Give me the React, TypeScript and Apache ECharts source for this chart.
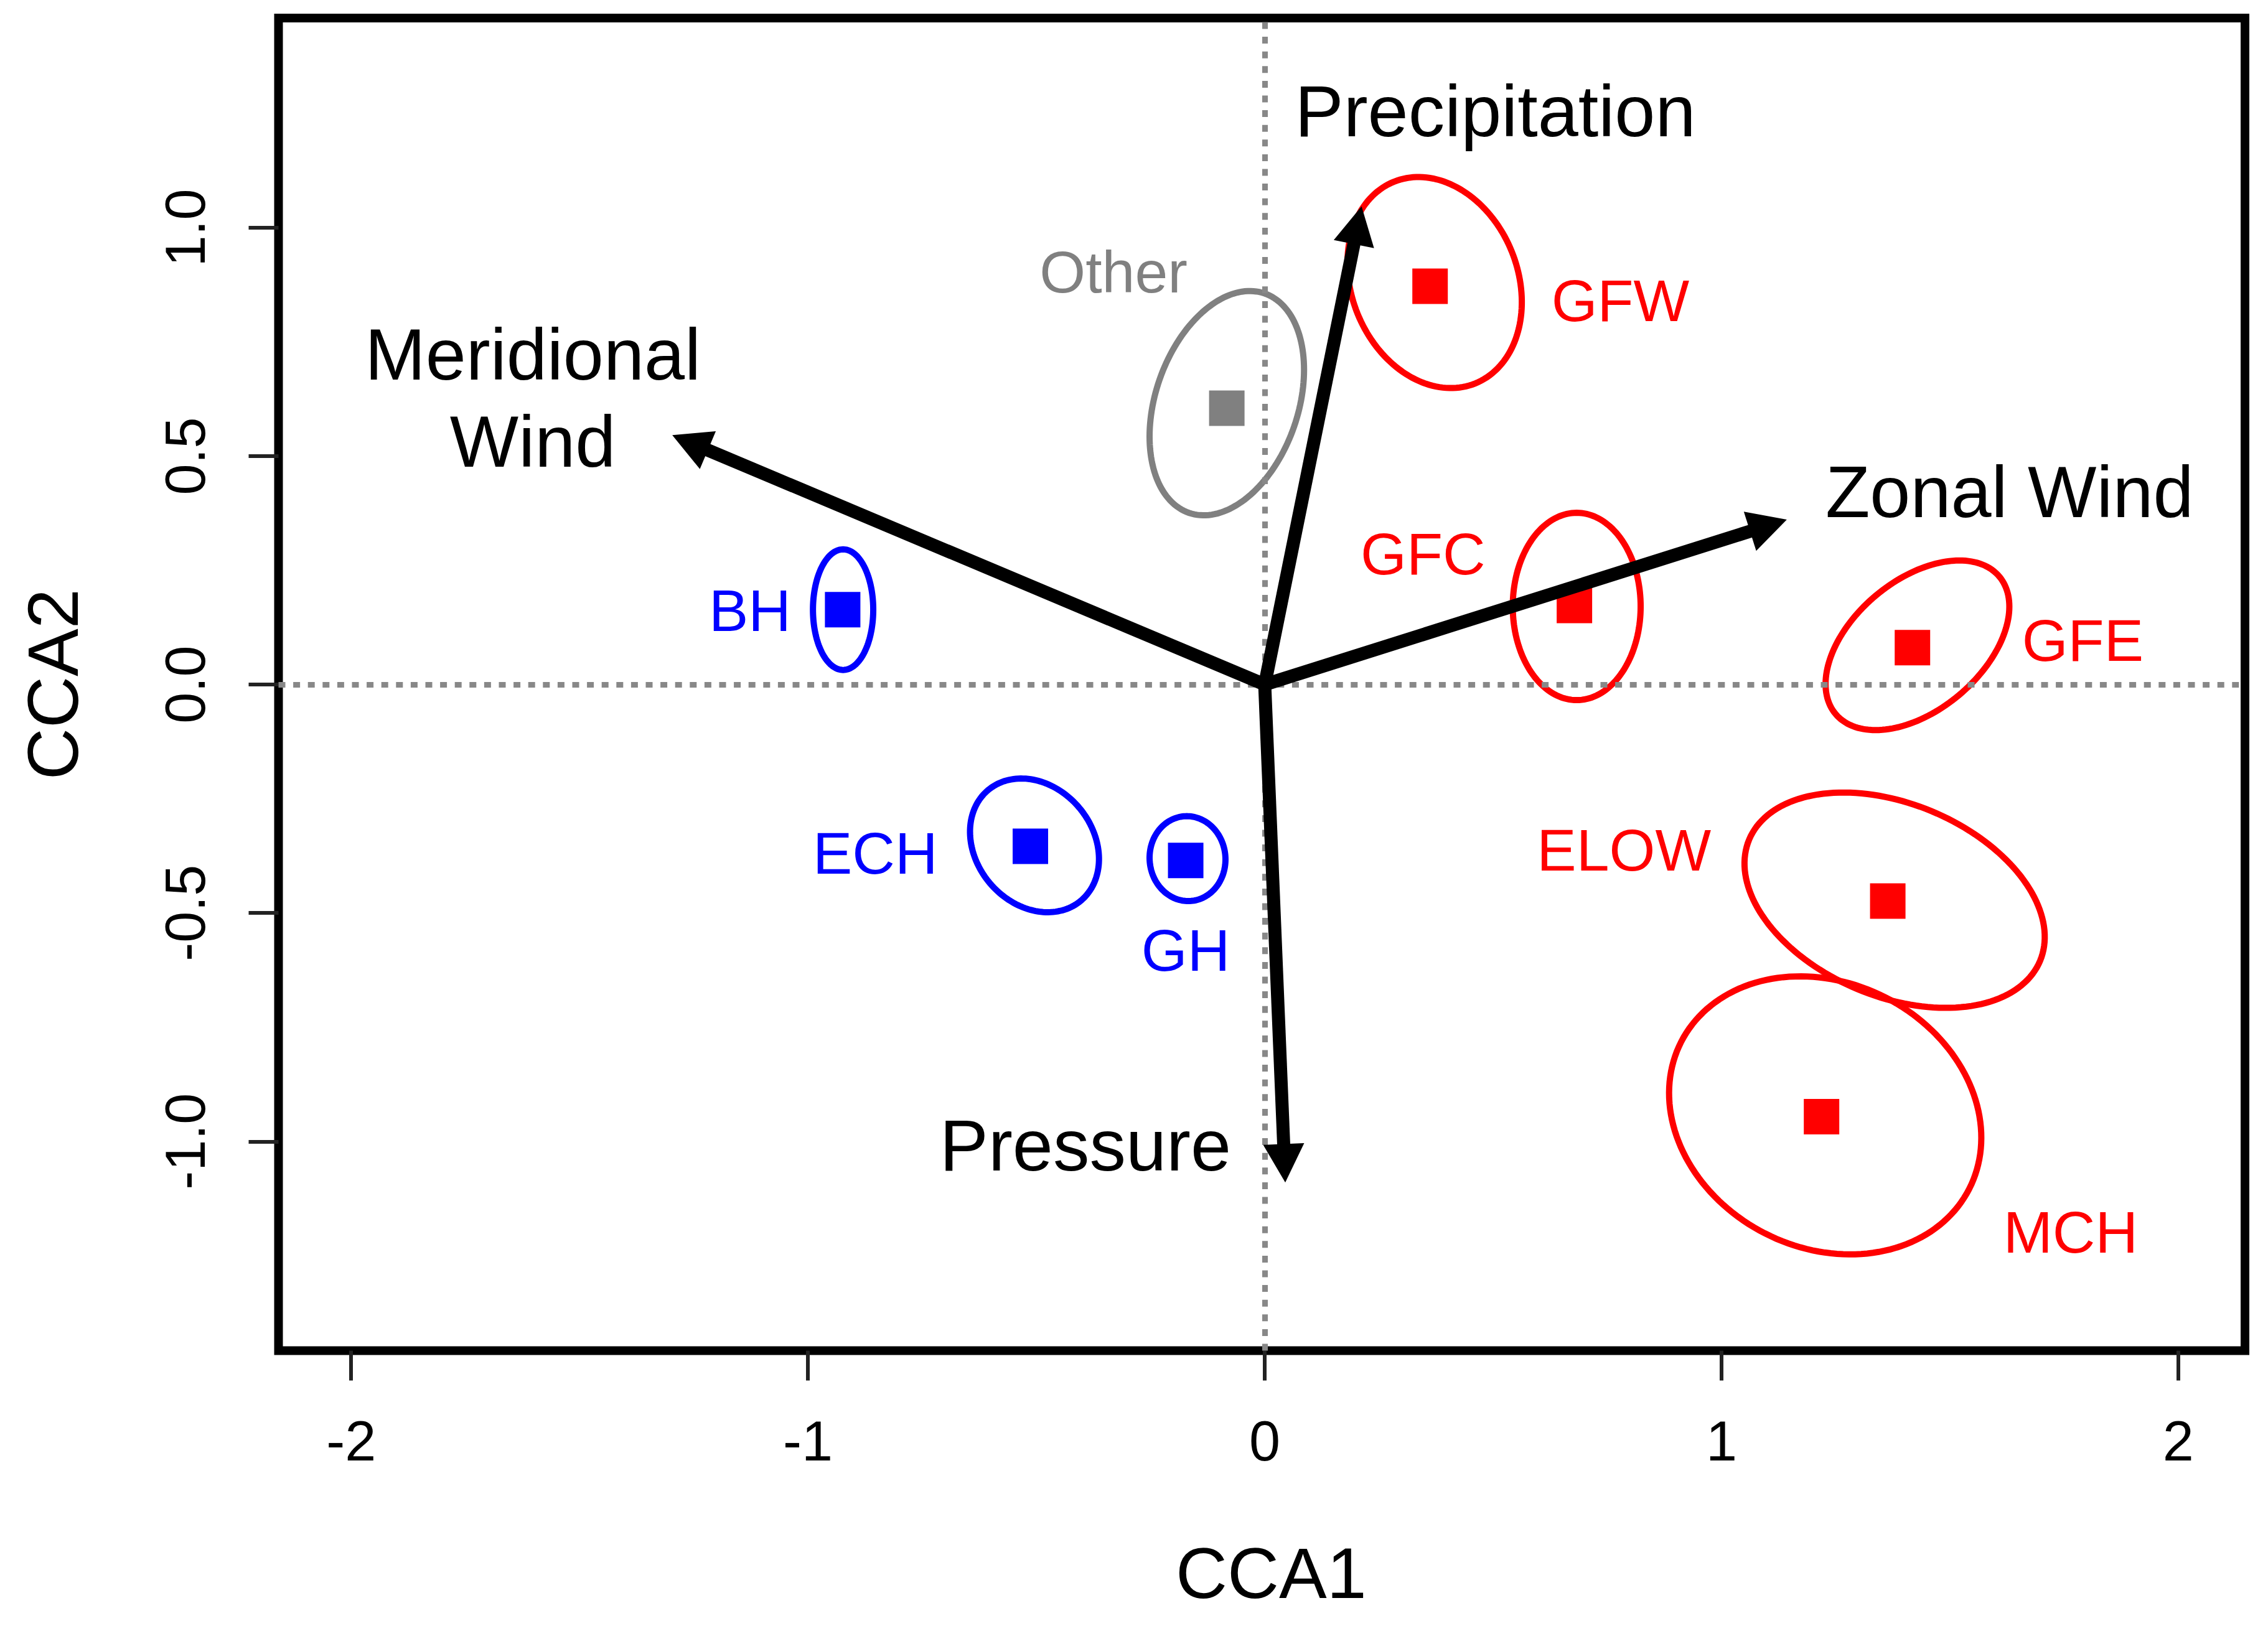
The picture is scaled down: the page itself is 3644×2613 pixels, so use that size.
import React, { useEffect, useRef } from "react";
import * as echarts from "echarts";

// ---- data ----
const groups = ["Other", "GFW", "GFC", "GFE", "ELOW", "MCH", "BH", "ECH", "GH"];
const cca1 = [-0.083, 0.362, 0.678, 1.418, 1.364, 1.219, -0.924, -0.513, -0.173];
const cca2 = [0.605, 0.872, 0.173, 0.081, -0.474, -0.946, 0.164, -0.354, -0.385];
const groupColors = ["#808080", "#FF0000", "#FF0000", "#FF0000", "#FF0000", "#FF0000", "#0000FF", "#0000FF", "#0000FF"];

// confidence ellipses (centre, semi-axes in CCA units, orientation in degrees)
const ellipseX = [-0.083, 0.372, 0.683, 1.429, 1.379, 1.227, -0.923, -0.504, -0.169];
const ellipseY = [0.616, 0.880, 0.171, 0.086, -0.472, -0.943, 0.164, -0.352, -0.381];
const ellipseMajor = [0.254, 0.238, 0.205, 0.234, 0.345, 0.354, 0.132, 0.158, 0.093];
const ellipseMinor = [0.156, 0.182, 0.14, 0.142, 0.211, 0.29, 0.066, 0.128, 0.083];
const ellipseAngle = [71, 112, 90, 40, -22.6, -27, 90, -50, 95];

// environmental vectors
const variables = ["Precipitation", "Meridional\nWind", "Zonal Wind", "Pressure"];
const arrowX = [0.212, -1.297, 1.143, 0.045];
const arrowY = [1.047, 0.546, 0.361, -1.09];

// axes
const xTicks = [-2, -1, 0, 1, 2];
const xTickLabels = ["-2", "-1", "0", "1", "2"];
const yTicks = [-1, -0.5, 0, 0.5, 1];
const yTickLabels = ["-1.0", "-0.5", "0.0", "0.5", "1.0"];
const xTitle = "CCA1";
const yTitle = "CCA2";

// ---- layout (pixel offsets of labels, not data) ----
const pointLabelLayout: { align: string; dx: number; dy: number }[] = [
  { align: "center", dx: -182, dy: -219 },
  { align: "left", dx: 195, dy: 23 },
  { align: "right", dx: -143, dy: -83 },
  { align: "left", dx: 176, dy: -12 },
  { align: "right", dx: -284, dy: -82 },
  { align: "left", dx: 292, dy: 185 },
  { align: "right", dx: -83, dy: 1 },
  { align: "right", dx: -149, dy: 11 },
  { align: "center", dx: 0, dy: 144 },
];
const arrowLabelLayout: { align: string; dx: number; dy: number }[] = [
  { align: "left", dx: -107, dy: -153 },
  { align: "center", dx: -224, dy: -60 },
  { align: "left", dx: 62, dy: -45 },
  { align: "right", dx: -87, dy: -60 },
];

const FONT = "'Liberation Sans', Arial, Helvetica, sans-serif";
const W = 3644;
const H = 2613;

export default function App() {
  const ref = useRef<HTMLDivElement>(null);

  useEffect(() => {
    document.body.style.margin = "0";
    const chart = echarts.init(ref.current!, null, { renderer: "svg" });

    const idx = groups.map((_, i) => i);

    const option: any = {
      animation: false,
      backgroundColor: "#ffffff",
      grid: {
        left: 447.5,
        right: W - 3607,
        top: 29,
        bottom: H - 2170.5,
        show: true,
        borderColor: "#000000",
        borderWidth: 14,
        backgroundColor: "transparent",
        outerBoundsMode: "none",
        containLabel: false,
      },
      xAxis: {
        type: "value",
        min: -2.159,
        max: 2.146,
        name: xTitle,
        nameLocation: "middle",
        nameGap: 300,
        nameTextStyle: { fontSize: 115, color: "#000", fontFamily: FONT, padding: [0, 0, 0, 30] },
        axisLine: { show: false, onZero: false },
        splitLine: { show: false },
        axisTick: {
          show: true,
          length: 48,
          customValues: xTicks,
          lineStyle: { color: "#222", width: 6 },
        },
        axisLabel: {
          show: true,
          customValues: xTicks,
          margin: 100,
          fontSize: 90,
          color: "#000",
          fontFamily: FONT,
          formatter: (v: number) => {
            const k = xTicks.findIndex((t) => Math.abs(t - v) < 1e-9);
            return k >= 0 ? xTickLabels[k] : "";
          },
        },
      },
      yAxis: {
        type: "value",
        min: -1.458,
        max: 1.459,
        name: yTitle,
        nameLocation: "middle",
        nameGap: 305,
        nameRotate: 90,
        nameTextStyle: { fontSize: 115, color: "#000", fontFamily: FONT },
        axisLine: { show: false, onZero: false },
        splitLine: { show: false },
        axisTick: {
          show: true,
          length: 48,
          customValues: yTicks,
          lineStyle: { color: "#222", width: 6 },
        },
        axisLabel: {
          show: true,
          customValues: yTicks,
          rotate: 90,
          margin: 105,
          fontSize: 90,
          color: "#000",
          fontFamily: FONT,
          formatter: (v: number) => {
            const k = yTicks.findIndex((t) => Math.abs(t - v) < 1e-9);
            return k >= 0 ? yTickLabels[k] : "";
          },
        },
      },
      series: [
        {
          // dotted reference lines at 0
          type: "scatter",
          data: [],
          z: 1,
          markLine: {
            silent: true,
            symbol: ["none", "none"],
            label: { show: false },
            lineStyle: { color: "#888888", width: 9, type: [11, 12.6], opacity: 1 },
            data: [{ xAxis: 0 }, { yAxis: 0 }],
          },
        },
        {
          // confidence ellipses
          type: "custom",
          z: 2,
          data: idx.map((i) => [ellipseX[i], ellipseY[i]]),
          encode: { x: 0, y: 1 },
          renderItem: (params: any, api: any) => {
            const i = params.dataIndex;
            const t = (ellipseAngle[i] * Math.PI) / 180;
            const a = ellipseMajor[i];
            const b = ellipseMinor[i];
            const pts: number[][] = [];
            for (let k = 0; k <= 160; k++) {
              const s = (k / 160) * Math.PI * 2;
              const ex = a * Math.cos(s);
              const ey = b * Math.sin(s);
              pts.push(
                api.coord([
                  ellipseX[i] + ex * Math.cos(t) - ey * Math.sin(t),
                  ellipseY[i] + ex * Math.sin(t) + ey * Math.cos(t),
                ])
              );
            }
            return {
              type: "polygon",
              shape: { points: pts },
              style: { fill: "none", stroke: groupColors[i], lineWidth: 10 },
            };
          },
        },
        {
          // group centroids
          type: "scatter",
          z: 3,
          symbol: "rect",
          symbolSize: 57,
          itemStyle: { opacity: 1 },
          data: idx.map((i) => ({
            value: [cca1[i], cca2[i]],
            name: groups[i],
            itemStyle: { color: groupColors[i], opacity: 1 },
          })),
        },
        {
          // group labels
          type: "custom",
          z: 4,
          data: idx.map((i) => [cca1[i], cca2[i]]),
          encode: { x: 0, y: 1 },
          renderItem: (params: any, api: any) => {
            const i = params.dataIndex;
            const p = api.coord([cca1[i], cca2[i]]);
            const L = pointLabelLayout[i];
            return {
              type: "text",
              x: p[0] + L.dx,
              y: p[1] + L.dy,
              style: {
                text: groups[i],
                fill: groupColors[i],
                fontSize: 95,
                fontFamily: FONT,
                align: L.align,
                verticalAlign: "middle",
              },
            };
          },
        },
        {
          // environmental arrows
          type: "custom",
          z: 5,
          data: variables.map((_, i) => [arrowX[i], arrowY[i]]),
          encode: { x: 0, y: 1 },
          renderItem: (params: any, api: any) => {
            const i = params.dataIndex;
            const p0 = api.coord([0, 0]);
            const p1 = api.coord([arrowX[i], arrowY[i]]);
            const dx = p1[0] - p0[0];
            const dy = p1[1] - p0[1];
            const len = Math.sqrt(dx * dx + dy * dy);
            const ux = dx / len;
            const uy = dy / len;
            const nx = -uy;
            const ny = ux;
            const HL = 62;
            const HW = 33;
            const bx = p1[0] - ux * HL;
            const by = p1[1] - uy * HL;
            const L = arrowLabelLayout[i];
            return {
              type: "group",
              children: [
                {
                  type: "line",
                  shape: { x1: p0[0], y1: p0[1], x2: bx + ux * 6, y2: by + uy * 6 },
                  style: { stroke: "#000", lineWidth: 21, lineCap: "butt", lineJoin: "round" },
                },
                {
                  type: "polygon",
                  shape: {
                    points: [
                      [p1[0], p1[1]],
                      [bx + nx * HW, by + ny * HW],
                      [bx - nx * HW, by - ny * HW],
                    ],
                  },
                  style: { fill: "#000" },
                },
                {
                  type: "text",
                  x: p1[0] + L.dx,
                  y: p1[1] + L.dy,
                  style: {
                    text: variables[i],
                    fill: "#000",
                    fontSize: 117,
                    lineHeight: 140,
                    fontFamily: FONT,
                    align: L.align,
                    verticalAlign: "middle",
                  },
                },
              ],
            };
          },
        },
      ],
    };

    chart.setOption(option);
    return () => chart.dispose();
  }, []);

  return <div ref={ref} style={{ width: W, height: H }} />;
}
